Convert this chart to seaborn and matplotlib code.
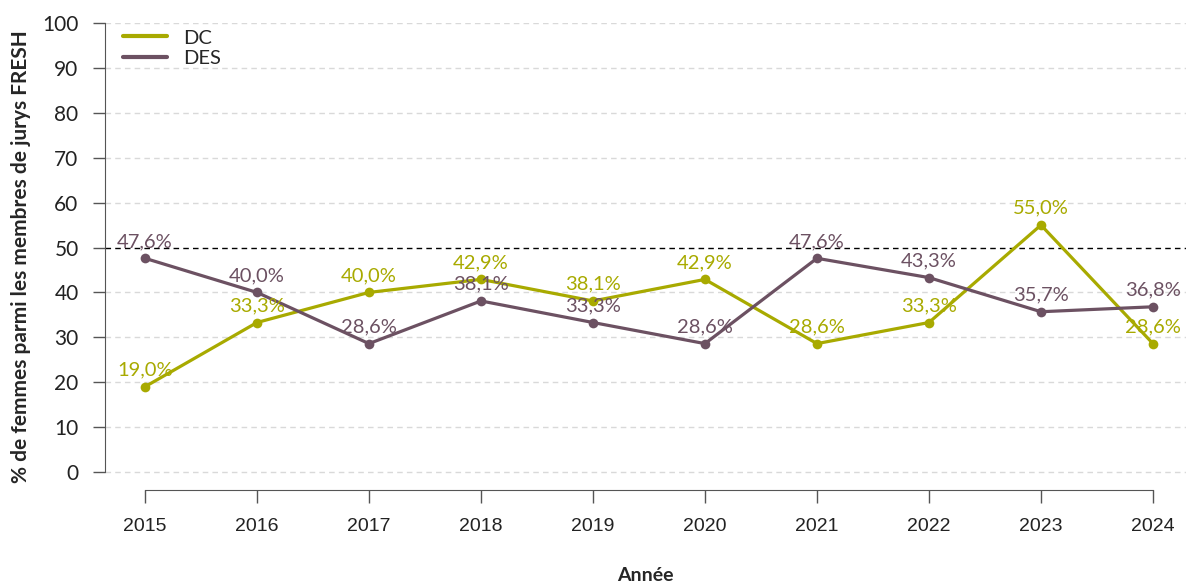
import numpy as np
import pandas as pd
import matplotlib
matplotlib.use("Agg")
import matplotlib.pyplot as plt
from matplotlib.lines import Line2D
import seaborn as sns

# data
annees = [2015, 2016, 2017, 2018, 2019, 2020, 2021, 2022, 2023, 2024]
dc = [19.0, 33.3, 40.0, 42.9, 38.1, 42.9, 28.6, 33.3, 55.0, 28.6]
des = [47.6, 40.0, 28.6, 38.1, 33.3, 28.6, 47.6, 43.3, 35.7, 36.8]
series = ["DC", "DES"]
couleurs = {"DC": "#a8aa00", "DES": "#6c5162"}

df = pd.DataFrame({
    "annee": annees * 2,
    "pct": dc + des,
    "serie": ["DC"] * len(annees) + ["DES"] * len(annees),
})

sns.set_style("white")
plt.rcParams["font.family"] = ["Lato", "DejaVu Sans"]

fig = plt.figure(figsize=(11.86, 5.83), dpi=100)
ax = fig.add_axes([105 / 1186, 1 - 490 / 583, 1 - 105 / 1186, (490 - 23) / 583])

# reference grid
for y in range(0, 101, 10):
    if y == 50:
        ax.axhline(y, color="black", lw=1, ls=(0, (4, 3)), zorder=1)
    else:
        ax.axhline(y, color="#d9d9d9", lw=1, ls=(0, (4, 3)), zorder=0)

sns.lineplot(data=df, x="annee", y="pct", hue="serie", palette=couleurs,
             marker="o", markersize=7, markeredgewidth=0, linewidth=2.3,
             legend=False, ax=ax, zorder=3)

# value labels
for s, vals in [("DC", dc), ("DES", des)]:
    for x, v in zip(annees, vals):
        ax.annotate(f"{v:.1f}%".replace(".", ","), (x, v), xytext=(0, 6),
                    textcoords="offset points", ha="center", va="bottom",
                    fontsize=14.5, color=couleurs[s], zorder=4)

ax.set_xlim(2014.643, 2024.295)
ax.set_ylim(-4, 100)
ax.set_yticks(range(0, 101, 10))
ax.set_xticks(annees)
ax.set_xticklabels([str(a) for a in annees], fontsize=14,
                   fontfamily="Liberation Sans", color="#222222")
ax.tick_params(axis="y", labelsize=15, length=9, width=1, color="#555555",
               labelcolor="#222222", pad=10)
ax.tick_params(axis="x", length=9, width=1, color="#555555", pad=11)
ax.tick_params(left=True, bottom=True)

for side in ["top", "right"]:
    ax.spines[side].set_visible(False)
ax.spines["left"].set_bounds(0, 100)
ax.spines["bottom"].set_bounds(2015, 2024)
ax.spines["left"].set_color("#555555")
ax.spines["bottom"].set_color("#555555")

ax.set_xlabel("Année", fontsize=14, fontweight="bold", labelpad=23)
ax.set_ylabel("% de femmes parmi les membres de jurys FRESH", fontsize=15,
              fontweight="bold", labelpad=8)

handles = [Line2D([0], [0], color=couleurs[s], lw=3) for s in series]
ax.legend(handles, series, loc="upper left", bbox_to_anchor=(0.0, 1.025),
          frameon=False, fontsize=14.5, handlelength=2.2, handletextpad=0.8,
          labelspacing=0.15)

fig.savefig("out.png", dpi=100)
